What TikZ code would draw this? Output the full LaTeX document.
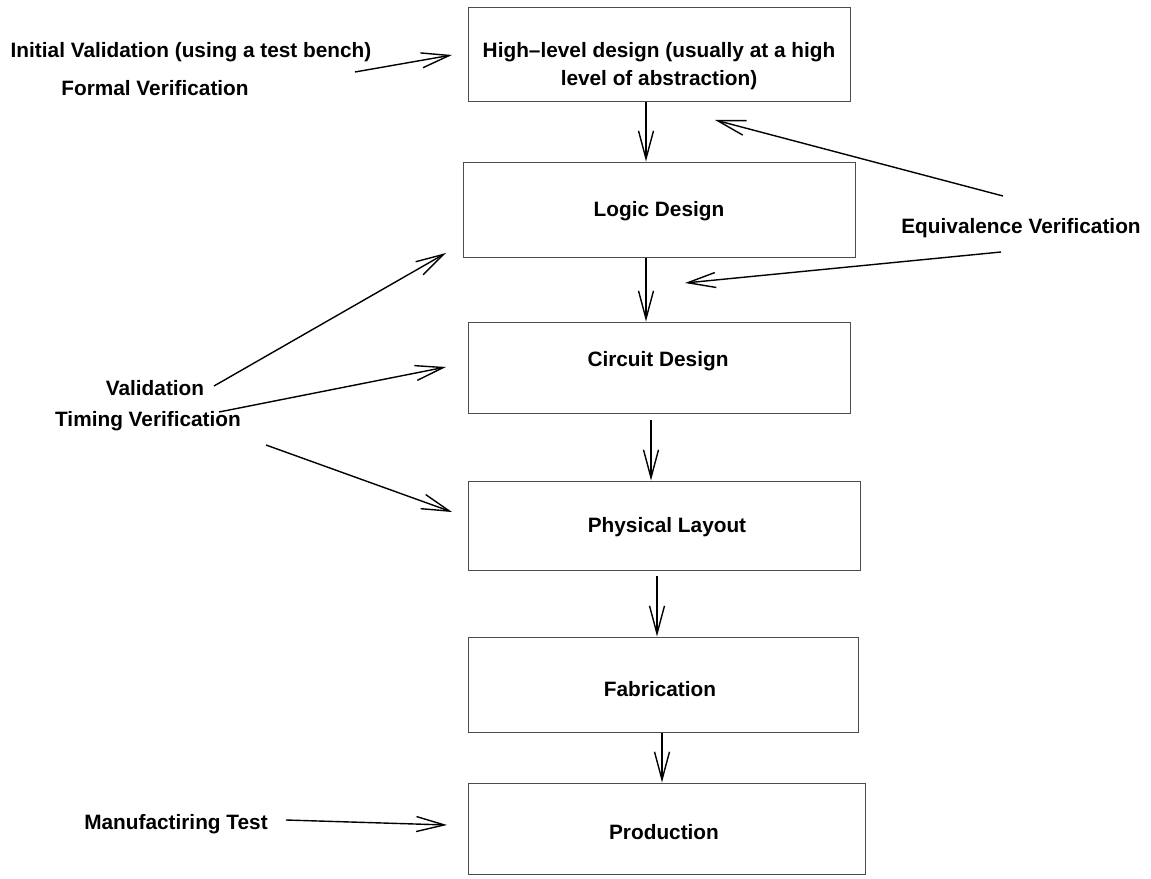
\documentclass[tikz,border=0pt]{standalone}
\usepackage{fontspec}
\setmainfont{Liberation Sans}
\usetikzlibrary{arrows.meta,calc}
\begin{document}
\begin{tikzpicture}[x=1pt,y=-1pt,
  txt/.style={font=\bfseries\fontsize{20.8}{28}\selectfont},
  box/.style={draw=black!70, line width=1pt, rectangle, inner sep=0pt},
  lbl/.style={txt, inner sep=0pt, align=center},
  flow/.style={line width=1.4pt, -{Straight Barb[length=28pt,width=15pt]}}]
\useasboundingbox (0,0) rectangle (1151,878);

% design flow stages
\node[box, minimum width=382pt, minimum height=94pt] (hl) at (659,54) {};
\node[box, minimum width=392pt, minimum height=95pt] (logic) at (659,209.5) {};
\node[box, minimum width=382pt, minimum height=91pt] (circuit) at (659,367.5) {};
\node[box, minimum width=392pt, minimum height=89pt] (phys) at (664,525.5) {};
\node[box, minimum width=390pt, minimum height=95pt] (fab) at (663,684.5) {};
\node[box, minimum width=397pt, minimum height=91pt] (prod) at (666.5,828.5) {};

% stage titles
\node[lbl] (hl-t) at (659,66) {High--level design (usually at a high\\level of abstraction)};
\node[lbl] (logic-t) at (659,211) {Logic Design};
\node[lbl] (circuit-t) at (658,361) {Circuit Design};
\node[lbl] (phys-t) at (667,527) {Physical Layout};
\node[lbl] (fab-t) at (660,689) {Fabrication};
\node[lbl] (prod-t) at (664,832) {Production};

% verification activities
\node[lbl] (iv) at (191,52) {Initial Validation (using a test bench)};
\node[lbl] (fv) at (155,88) {Formal Verification};
\node[lbl] (ev) at (1021,228) {Equivalence Verification};
\node[lbl] (val) at (155,388) {Validation};
\node[lbl] (tv) at (148,421) {Timing Verification};
\node[lbl] (mt) at (176,824) {Manufactiring Test};

% connector columns between stages
\coordinate (c1) at (646,0);
\coordinate (c3) at (651,0);
\coordinate (c4) at (657,0);
\coordinate (c5) at (662,0);

\draw[flow] (hl.south -| c1) -- (logic.north -| c1);
\draw[flow] (logic.south -| c1) -- (circuit.north -| c1);
\draw[flow] ($(circuit.south -| c3)+(0,6)$) -- (phys.north -| c3);
\draw[flow] ($(phys.south -| c4)+(0,5)$) -- (fab.north -| c4);
\draw[flow] (fab.south -| c5) -- (prod.north -| c5);

% arrow ends for the activity connectors
\coordinate (ivT) at (355,72);   \coordinate (ivH) at (452,55);
\coordinate (evT1) at (1003,196); \coordinate (evH1) at (715,120);
\coordinate (evT2) at (1001,252); \coordinate (evH2) at (685,283);
\coordinate (valT1) at (214,386); \coordinate (valH1) at (446,253);
\coordinate (valT2) at (219,412); \coordinate (valH2) at (446,367);
\coordinate (tvT) at (266,445);   \coordinate (tvH) at (452,512);
\coordinate (mtT) at (286,820);   \coordinate (mtH) at (447,825);

\draw[flow] (ivT) -- (ivH);
\draw[flow] (evT1) -- (evH1);
\draw[flow] (evT2) -- (evH2);
\draw[flow] (valT1) -- (valH1);
\draw[flow] (valT2) -- (valH2);
\draw[flow] (tvT) -- (tvH);
\draw[flow] (mtT) -- (mtH);
\end{tikzpicture}
\end{document}
